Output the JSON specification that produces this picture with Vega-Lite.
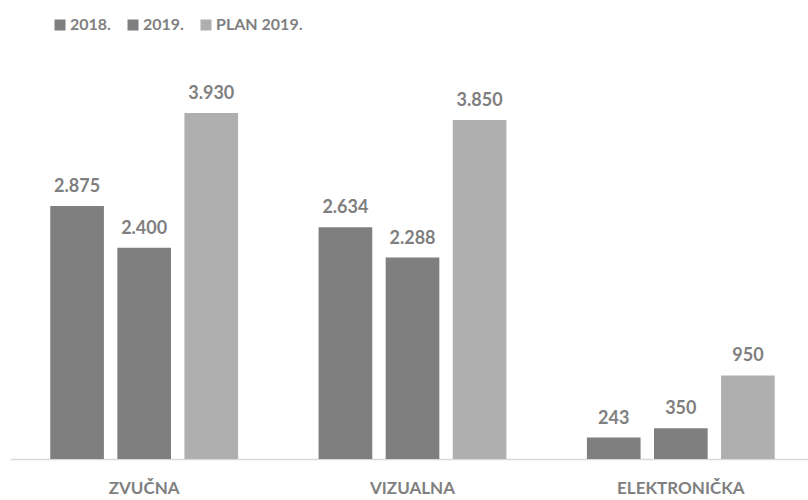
{
  "$schema": "https://vega.github.io/schema/vega-lite/v6.json",
  "width": 798,
  "height": 419,
  "autosize": {"type": "none"},
  "padding": {"left": 10, "top": 40, "right": 0, "bottom": 41},
  "data": {
    "values": [
      {"kategorija": "ZVUČNA", "serija": "2018.", "vrijednost": 2875},
      {"kategorija": "ZVUČNA", "serija": "2019.", "vrijednost": 2400},
      {"kategorija": "ZVUČNA", "serija": "PLAN 2019.", "vrijednost": 3930},
      {"kategorija": "VIZUALNA", "serija": "2018.", "vrijednost": 2634},
      {"kategorija": "VIZUALNA", "serija": "2019.", "vrijednost": 2288},
      {"kategorija": "VIZUALNA", "serija": "PLAN 2019.", "vrijednost": 3850},
      {"kategorija": "ELEKTRONIČKA", "serija": "2018.", "vrijednost": 243},
      {"kategorija": "ELEKTRONIČKA", "serija": "2019.", "vrijednost": 350},
      {"kategorija": "ELEKTRONIČKA", "serija": "PLAN 2019.", "vrijednost": 950}
    ]
  },
  "encoding": {
    "x": {
      "field": "kategorija",
      "type": "nominal",
      "sort": ["ZVUČNA", "VIZUALNA", "ELEKTRONIČKA"],
      "scale": {"range": [0, 805], "paddingInner": 0.3, "paddingOuter": 0.15},
      "axis": {
        "title": null,
        "labelAngle": 0,
        "ticks": false,
        "domainColor": "#d9d9d9",
        "domainWidth": 1.5,
        "labelFont": "Lato",
        "labelFontWeight": "bold",
        "labelFontSize": 17,
        "labelColor": "#7f7f7f",
        "labelPadding": 21
      }
    },
    "xOffset": {
      "field": "serija",
      "type": "nominal",
      "scale": {"paddingInner": 0.2, "paddingOuter": 0}
    },
    "y": {
      "field": "vrijednost",
      "type": "quantitative",
      "scale": {"domain": [0, 4760], "nice": false},
      "axis": null
    }
  },
  "layer": [
    {
      "mark": {"type": "bar"},
      "encoding": {
        "color": {
          "field": "serija",
          "type": "nominal",
          "scale": {"domain": ["2018.", "2019.", "PLAN 2019."], "range": ["#7f7f7f", "#7f7f7f", "#afafaf"]},
          "legend": {
            "title": null,
            "orient": "none",
            "direction": "horizontal",
            "legendX": 42,
            "legendY": -23,
            "symbolType": "square",
            "symbolSize": 121,
            "symbolStrokeWidth": 0,
            "labelFont": "Lato",
            "labelFontWeight": "bold",
            "labelFontSize": 16,
            "labelColor": "#7f7f7f",
            "labelOffset": 2,
            "columnPadding": 14
          }
        }
      }
    },
    {
      "mark": {
        "type": "text",
        "baseline": "alphabetic",
        "dy": -14,
        "font": "Lato",
        "fontWeight": "bold",
        "fontSize": 18,
        "color": "#7f7f7f"
      },
      "encoding": {
        "text": {"field": "vrijednost", "type": "quantitative", "format": ",d"}
      }
    }
  ],
  "config": {
    "view": {"stroke": null},
    "locale": {
      "number": {"decimal": ",", "thousands": ".", "grouping": [3], "currency": ["", ""]}
    }
  }
}
